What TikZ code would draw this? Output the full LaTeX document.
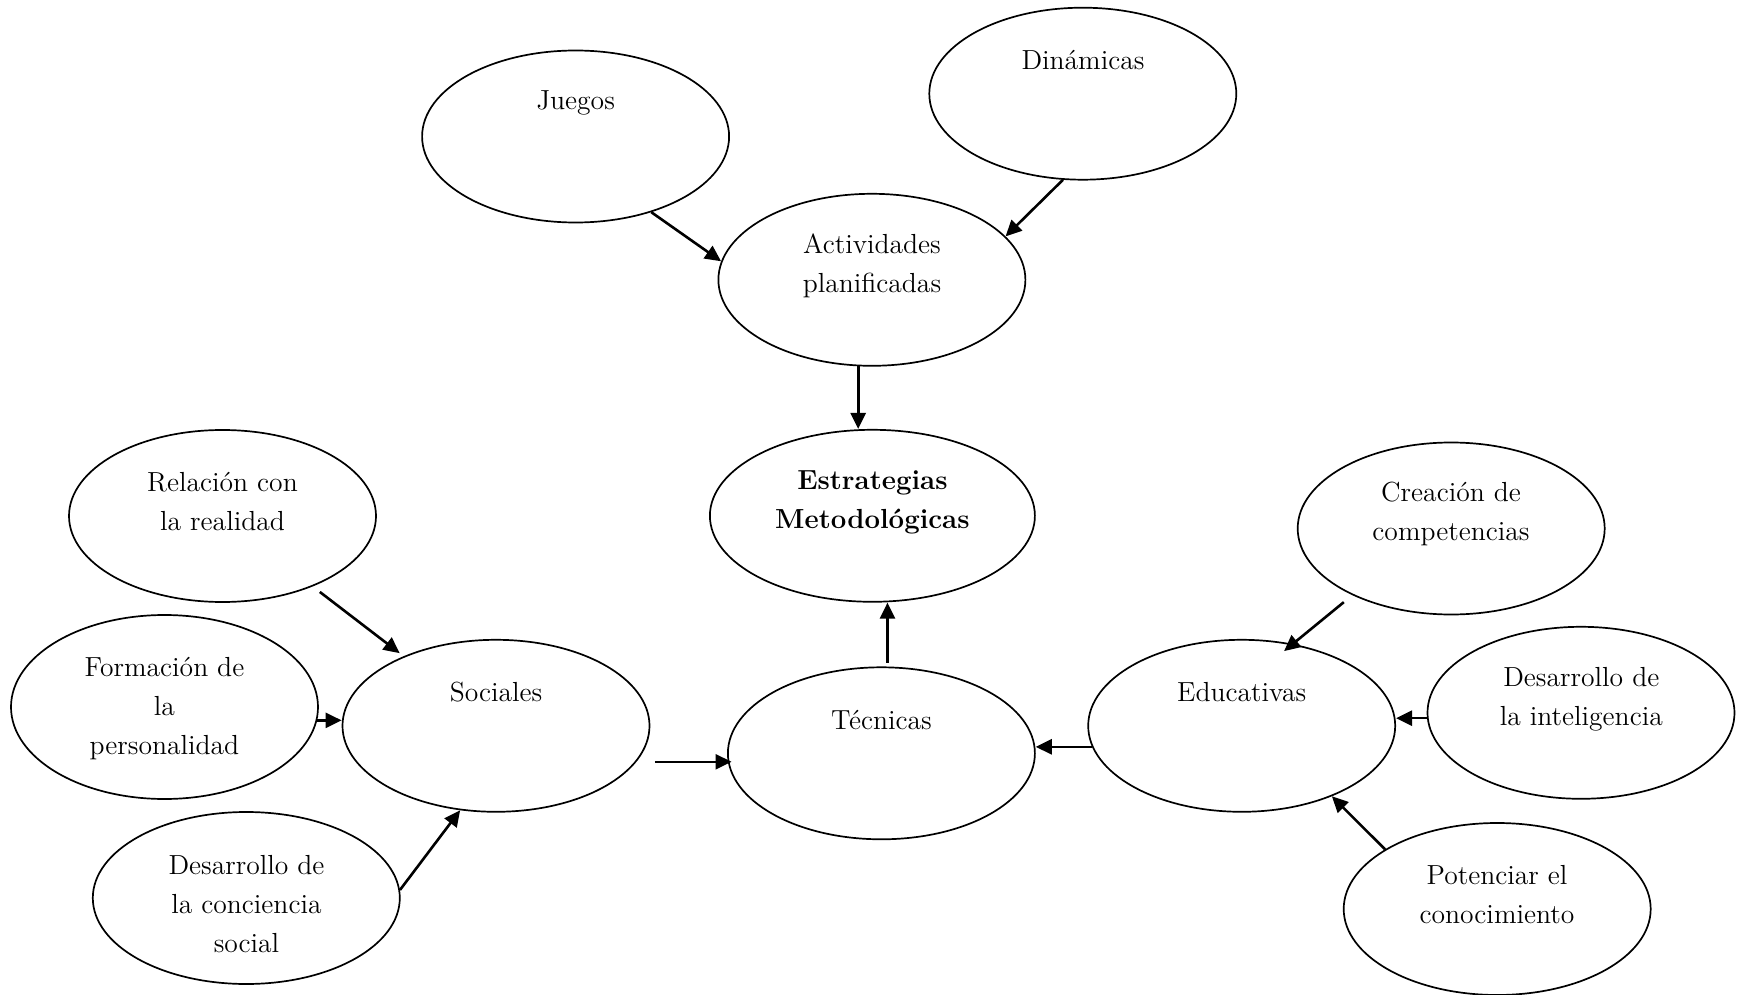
\documentclass[tikz,border=0pt]{standalone}
\usepackage{fontspec}
\usetikzlibrary{arrows.meta,shapes.geometric}
\begin{document}
\begin{tikzpicture}[x=0.5pt,y=-0.5pt,
  bub/.style={draw, ellipse, line width=0.85pt, minimum width=153.5pt, minimum height=86pt, inner sep=0pt},
  txt/.style={align=center, font=\fontsize{13.8pt}{19.5pt}\selectfont, inner sep=0pt},
  arr/.style={-{Triangle[length=8pt,width=7.5pt]}, line width=1.3pt}]
\useasboundingbox (0,0) rectangle (1737,995);
% ellipses
\node[bub] (jue) at (575.6,136.5) {};
\node[bub] (din) at (1082.8,93.7) {};
\node[bub] (act) at (871.9,279.8) {};
\node[bub, minimum width=162.5pt] (est) at (872.4,515.8) {};
\node[bub] (rel) at (222.5,516) {};
\node[bub, minimum height=92pt] (for) at (164.5,707) {};
\node[bub] (soc) at (496,725.8) {};
\node[bub] (con) at (246.3,898) {};
\node[bub] (tec) at (881.4,753.3) {};
\node[bub] (edu) at (1241.7,725.8) {};
\node[bub] (cre) at (1451.2,528.5) {};
\node[bub] (int) at (1581,712.8) {};
\node[bub] (pot) at (1497.2,909) {};
% texts
\node[txt] (tjue) at (575.6,103.3) {Juegos};
\node[txt] (tdin) at (1083,60) {Dinámicas};
\node[txt] (tact) at (872,265.9) {Actividades\\planificadas};
\node[txt, font=\fontsize{13.8pt}{19.5pt}\selectfont\bfseries] (test) at (872.4,502.4) {Estrategias\\Metodológicas};
\node[txt] (trel) at (222.5,501.7) {Relación con\\la realidad};
\node[txt] (tfor) at (164.5,708.9) {Formación de\\la\\personalidad};
\node[txt] (tsoc) at (496,691.7) {Sociales};
\node[txt] (tcon) at (246.5,903.9) {Desarrollo de\\la conciencia\\social};
\node[txt] (ttec) at (881.4,720) {Técnicas};
\node[txt] (tedu) at (1241.7,691.7) {Educativas};
\node[txt] (tcre) at (1451,513.7) {Creación de\\competencias};
\node[txt] (tint) at (1581.3,699.2) {Desarrollo de\\la inteligencia};
\node[txt] (tpot) at (1497,894.2) {Potenciar el\\conocimiento};
% connectors
\draw[arr] (jue.-45) -- (act.173);
\draw[arr] (din.-103.9) -- (act.18.5);
\draw[arr] (act.-99.7) -- (act.-99.7 |- est.north);
\draw[arr, shorten <=2pt] (tec.86.7) -- (tec.86.7 |- est.south);
\draw[arr, shorten <=4.5pt, shorten >=2.5pt] (rel.-38.9) -- (soc.143.5);
\draw[arr] (for.-5.3) -- (for.-5.3 -| soc.west);
\draw[arr] (con.3) -- (soc.-113.9);
\draw[arr] ([shift={(4.5,36)}]soc.east) -- ([shift={(4.5,36)}]soc.east -| tec.west);
\draw[arr] (edu.188.65) -- (edu.188.65 -| tec.east);
\draw[arr, shorten <=5.5pt, shorten >=-5.7pt] (cre.214.2) -- (edu.58.8);
\draw[arr] (int.182) -- (int.182 -| edu.east);
\draw[arr] (pot.152.6) -- (edu.-38.1);
\end{tikzpicture}
\end{document}
